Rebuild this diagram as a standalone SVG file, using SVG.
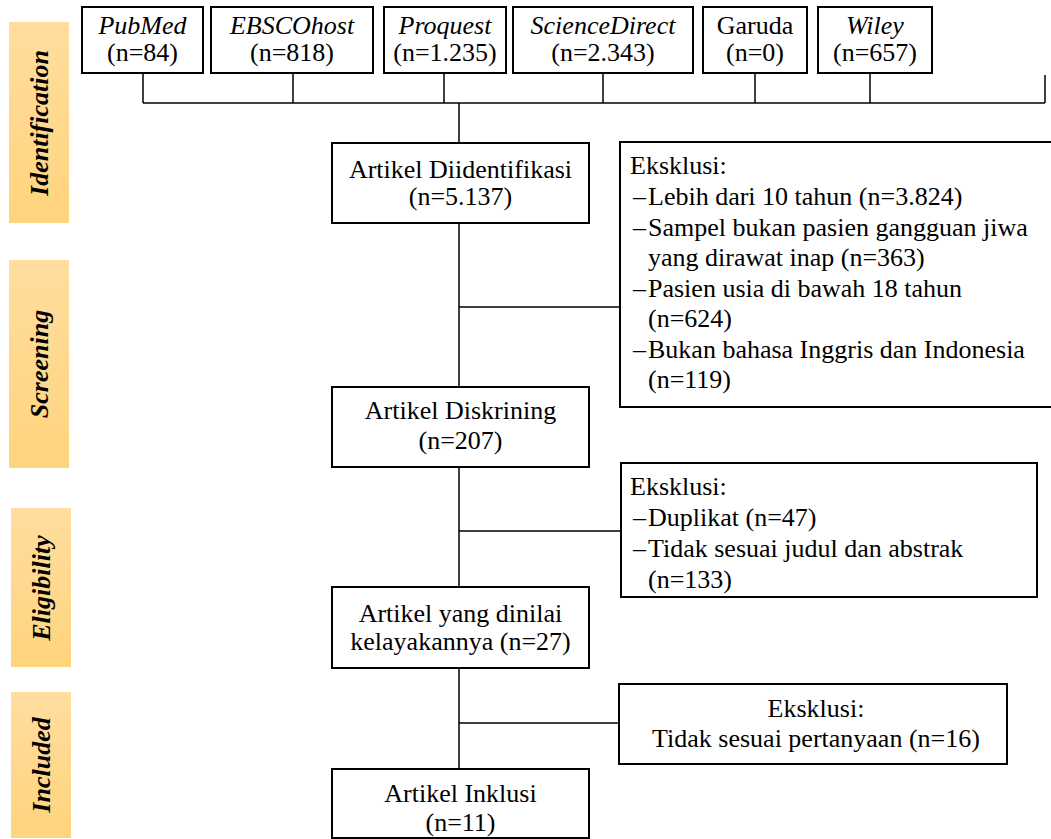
<svg xmlns="http://www.w3.org/2000/svg" width="1051" height="839" viewBox="0 0 1051 839">
<defs>
<linearGradient id="phase" x1="0" y1="0" x2="0" y2="1">
<stop offset="0" stop-color="#FFDD9E"/>
<stop offset="1" stop-color="#FFD47E"/>
</linearGradient>
</defs>
<rect width="1051" height="839" fill="#fff"/>
<g id="phases" fill="url(#phase)">
<g id="phase-identification"><rect x="9" y="22" width="60" height="201"/><text font-family="Liberation Serif,Tinos,serif" font-size="26" font-weight="bold" font-style="italic" text-anchor="middle" fill="#000" transform="translate(48,123) rotate(-90)">Identification</text></g>
<g id="phase-screening"><rect x="9" y="260" width="60" height="208"/><text font-family="Liberation Serif,Tinos,serif" font-size="26" font-weight="bold" font-style="italic" text-anchor="middle" fill="#000" transform="translate(48,364) rotate(-90)">Screening</text></g>
<g id="phase-eligibility"><rect x="11" y="508" width="60" height="159"/><text font-family="Liberation Serif,Tinos,serif" font-size="26" font-weight="bold" font-style="italic" text-anchor="middle" fill="#000" transform="translate(50,588) rotate(-90)">Eligibility</text></g>
<g id="phase-included"><rect x="11" y="692" width="60" height="146"/><text font-family="Liberation Serif,Tinos,serif" font-size="26" font-weight="bold" font-style="italic" text-anchor="middle" fill="#000" transform="translate(50,765) rotate(-90)">Included</text></g>
</g>

<g id="connectors" fill="none" stroke="#000" stroke-width="1.5">
<path d="M143 73V103M293 73V103M444 73V103M603 73V103M755 73V103M870 73V103M1045 75V103M143 103H1045M459 103V143"/>
<path d="M459 223V387M459 307H620"/>
<path d="M459 467V587M459 531H621"/>
<path d="M459 668V769M459 723H619"/>
</g>

<g id="sources">
<g id="src-pubmed"><rect x="82" y="7" width="121" height="66" fill="#fff" stroke="#000" stroke-width="2"/><text font-family="Liberation Serif,Tinos,serif" font-size="26" font-style="italic" text-anchor="middle" x="142.5" y="34">PubMed</text><text font-family="Liberation Serif,Tinos,serif" font-size="26" text-anchor="middle" x="142.5" y="61">(n=84)</text></g>
<g id="src-ebsco"><rect x="211" y="7" width="162" height="66" fill="#fff" stroke="#000" stroke-width="2"/><text font-family="Liberation Serif,Tinos,serif" font-size="26" font-style="italic" text-anchor="middle" x="292" y="34">EBSCOhost</text><text font-family="Liberation Serif,Tinos,serif" font-size="26" text-anchor="middle" x="292" y="61">(n=818)</text></g>
<g id="src-proquest"><rect x="384" y="7" width="122" height="66" fill="#fff" stroke="#000" stroke-width="2"/><text font-family="Liberation Serif,Tinos,serif" font-size="26" font-style="italic" text-anchor="middle" x="445" y="34">Proquest</text><text font-family="Liberation Serif,Tinos,serif" font-size="26" text-anchor="middle" x="445" y="61">(n=1.235)</text></g>
<g id="src-sciencedirect"><rect x="513" y="7" width="180" height="66" fill="#fff" stroke="#000" stroke-width="2"/><text font-family="Liberation Serif,Tinos,serif" font-size="26" font-style="italic" text-anchor="middle" x="603" y="34">ScienceDirect</text><text font-family="Liberation Serif,Tinos,serif" font-size="26" text-anchor="middle" x="603" y="61">(n=2.343)</text></g>
<g id="src-garuda"><rect x="703" y="7" width="104" height="66" fill="#fff" stroke="#000" stroke-width="2"/><text font-family="Liberation Serif,Tinos,serif" font-size="26" text-anchor="middle" x="755" y="34">Garuda</text><text font-family="Liberation Serif,Tinos,serif" font-size="26" text-anchor="middle" x="755" y="61">(n=0)</text></g>
<g id="src-wiley"><rect x="818" y="7" width="114" height="66" fill="#fff" stroke="#000" stroke-width="2"/><text font-family="Liberation Serif,Tinos,serif" font-size="26" font-style="italic" text-anchor="middle" x="875" y="34">Wiley</text><text font-family="Liberation Serif,Tinos,serif" font-size="26" text-anchor="middle" x="875" y="61">(n=657)</text></g>
</g>

<g id="identified"><rect x="332" y="143" width="257" height="80" fill="#fff" stroke="#000" stroke-width="2"/><text font-family="Liberation Serif,Tinos,serif" font-size="26" text-anchor="middle" x="460.5" y="178">Artikel Diidentifikasi</text><text font-family="Liberation Serif,Tinos,serif" font-size="26" text-anchor="middle" x="460.5" y="205">(n=5.137)</text></g>
<g id="excl-screening"><rect x="620" y="142" width="440" height="265" fill="#fff" stroke="#000" stroke-width="2"/>
<text font-family="Liberation Serif,Tinos,serif" font-size="26" x="630" y="174">Eksklusi:</text>
<text font-family="Liberation Serif,Tinos,serif" font-size="26" x="633" y="205">–<tspan x="648">Lebih dari 10 tahun (n=3.824)</tspan></text>
<text font-family="Liberation Serif,Tinos,serif" font-size="26" x="633" y="236">–<tspan x="648">Sampel bukan pasien gangguan jiwa</tspan></text>
<text font-family="Liberation Serif,Tinos,serif" font-size="26" x="648" y="266">yang dirawat inap (n=363)</text>
<text font-family="Liberation Serif,Tinos,serif" font-size="26" x="633" y="297">–<tspan x="648">Pasien usia di bawah 18 tahun</tspan></text>
<text font-family="Liberation Serif,Tinos,serif" font-size="26" x="648" y="327">(n=624)</text>
<text font-family="Liberation Serif,Tinos,serif" font-size="26" x="633" y="358">–<tspan x="648">Bukan bahasa Inggris dan Indonesia</tspan></text>
<text font-family="Liberation Serif,Tinos,serif" font-size="26" x="648" y="388">(n=119)</text>
</g>

<g id="screened"><rect x="332" y="387" width="257" height="80" fill="#fff" stroke="#000" stroke-width="2"/><text font-family="Liberation Serif,Tinos,serif" font-size="26" text-anchor="middle" x="460.5" y="419">Artikel Diskrining</text><text font-family="Liberation Serif,Tinos,serif" font-size="26" text-anchor="middle" x="460.5" y="449">(n=207)</text></g>
<g id="excl-eligibility"><rect x="621" y="463" width="416" height="134" fill="#fff" stroke="#000" stroke-width="2"/>
<text font-family="Liberation Serif,Tinos,serif" font-size="26" x="630" y="495">Eksklusi:</text>
<text font-family="Liberation Serif,Tinos,serif" font-size="26" x="633" y="526">–<tspan x="648">Duplikat (n=47)</tspan></text>
<text font-family="Liberation Serif,Tinos,serif" font-size="26" x="633" y="557">–<tspan x="648">Tidak sesuai judul dan abstrak</tspan></text>
<text font-family="Liberation Serif,Tinos,serif" font-size="26" x="648" y="588">(n=133)</text>
</g>

<g id="assessed"><rect x="332" y="587" width="257" height="81" fill="#fff" stroke="#000" stroke-width="2"/><text font-family="Liberation Serif,Tinos,serif" font-size="26" text-anchor="middle" x="460.5" y="622">Artikel yang dinilai</text><text font-family="Liberation Serif,Tinos,serif" font-size="26" text-anchor="middle" x="460.5" y="650">kelayakannya (n=27)</text></g>
<g id="excl-included"><rect x="619" y="684" width="388" height="80" fill="#fff" stroke="#000" stroke-width="2"/><text font-family="Liberation Serif,Tinos,serif" font-size="26" text-anchor="middle" x="816" y="717">Eksklusi:</text><text font-family="Liberation Serif,Tinos,serif" font-size="26" text-anchor="middle" x="816" y="747">Tidak sesuai pertanyaan (n=16)</text></g>

<g id="included"><rect x="332" y="769" width="257" height="69" fill="#fff" stroke="#000" stroke-width="2"/><text font-family="Liberation Serif,Tinos,serif" font-size="26" text-anchor="middle" x="460.5" y="802">Artikel Inklusi</text><text font-family="Liberation Serif,Tinos,serif" font-size="26" text-anchor="middle" x="460.5" y="831">(n=11)</text></g>
</svg>
